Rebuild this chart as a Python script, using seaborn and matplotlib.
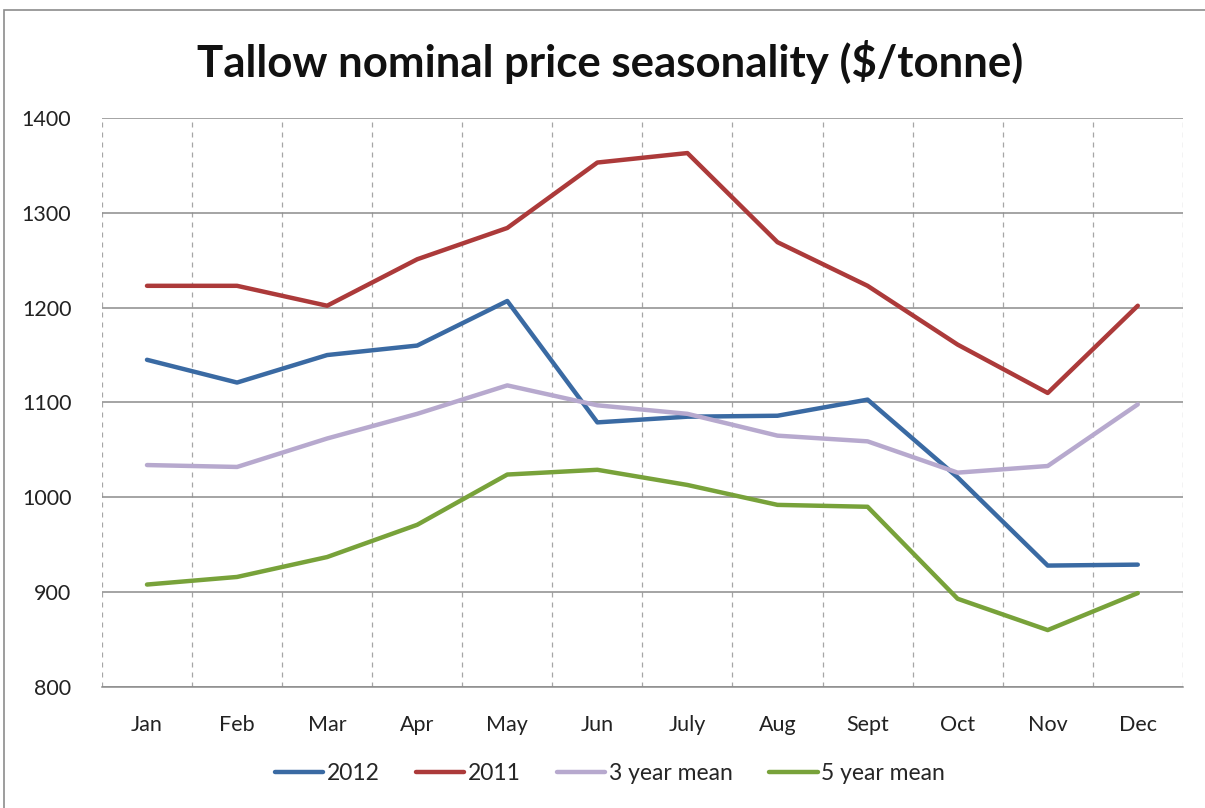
import matplotlib
matplotlib.use("Agg")
import matplotlib.pyplot as plt
import seaborn as sns
import pandas as pd
from matplotlib.patches import Rectangle

months = ["Jan", "Feb", "Mar", "Apr", "May", "Jun", "July", "Aug", "Sept", "Oct", "Nov", "Dec"]
series_names = ["2012", "2011", "3 year mean", "5 year mean"]
price_2012 = [1145, 1121, 1150, 1160, 1207, 1079, 1085, 1086, 1103, 1021, 928, 929]
price_2011 = [1223, 1223, 1202, 1251, 1284, 1353, 1363, 1269, 1223, 1161, 1110, 1202]
mean_3yr = [1034, 1032, 1062, 1088, 1118, 1097, 1088, 1065, 1059, 1026, 1033, 1098]
mean_5yr = [908, 916, 937, 971, 1024, 1029, 1013, 992, 990, 893, 860, 899]
y_ticks = [800, 900, 1000, 1100, 1200, 1300, 1400]

colors = ["#3A6AA3", "#AC3A3A", "#B7A9CE", "#78A23A"]

sns.set_theme(style="white")
plt.rcParams["font.family"] = ["Lato", "DejaVu Sans"]

frames = []
for name, vals in zip(series_names, [price_2012, price_2011, mean_3yr, mean_5yr]):
    frames.append(pd.DataFrame({"month": months, "price": vals, "series": name}))
df = pd.concat(frames, ignore_index=True)

fig = plt.figure(figsize=(12.05, 8.08), dpi=100)
ax = fig.add_axes([0.0846, 0.1498, 0.8970, 0.7042])

sns.lineplot(data=df, x="month", y="price", hue="series", hue_order=series_names,
             palette=colors, linewidth=3.2, sort=False, ax=ax, legend=True)

ax.set_xlim(-0.5, len(months) - 0.5)
ax.set_ylim(y_ticks[0], y_ticks[-1])
ax.set_yticks(y_ticks)
ax.set_xticks(range(len(months)))
ax.set_xticklabels(months)
ax.set_xticks([i - 0.5 for i in range(len(months) + 1)], minor=True)

# solid horizontal grid, dashed vertical dividers between months
ax.grid(axis="y", which="major", color="#8C8C8C", linewidth=1.1, linestyle="-")
ax.grid(axis="x", which="minor", color="#A6A6A6", linewidth=0.9, linestyle=(0, (4, 4)))
ax.grid(axis="x", which="major", visible=False)
for side in ["left", "right", "top"]:
    ax.spines[side].set_visible(False)
ax.spines["bottom"].set_color("#8C8C8C")
ax.spines["bottom"].set_linewidth(1.1)

ax.tick_params(axis="both", which="both", length=0, labelsize=15.5, colors="#222222")
ax.tick_params(axis="x", pad=20)
ax.tick_params(axis="y", pad=22)
ax.set_xlabel("")
ax.set_ylabel("")

fig.suptitle("Tallow nominal price seasonality ($/tonne)", x=0.506, y=0.923, va="center",
             fontsize=31.5, fontweight="bold", color="#111111")

handles, labels = ax.get_legend_handles_labels()
ax.legend(handles, labels, loc="center", bbox_to_anchor=(0.47, -0.152), ncol=4,
          frameon=False, fontsize=16.5, handlelength=2.1, handletextpad=0.15,
          columnspacing=1.6)

# chart-area border
fig.patches.append(Rectangle((4 / 1205, -0.01), 1.02, 1 - 10 / 808 + 0.01,
                             transform=fig.transFigure, fill=False,
                             edgecolor="#8C8C8C", linewidth=1.2))

fig.savefig("out.png", dpi=100, facecolor="white")
